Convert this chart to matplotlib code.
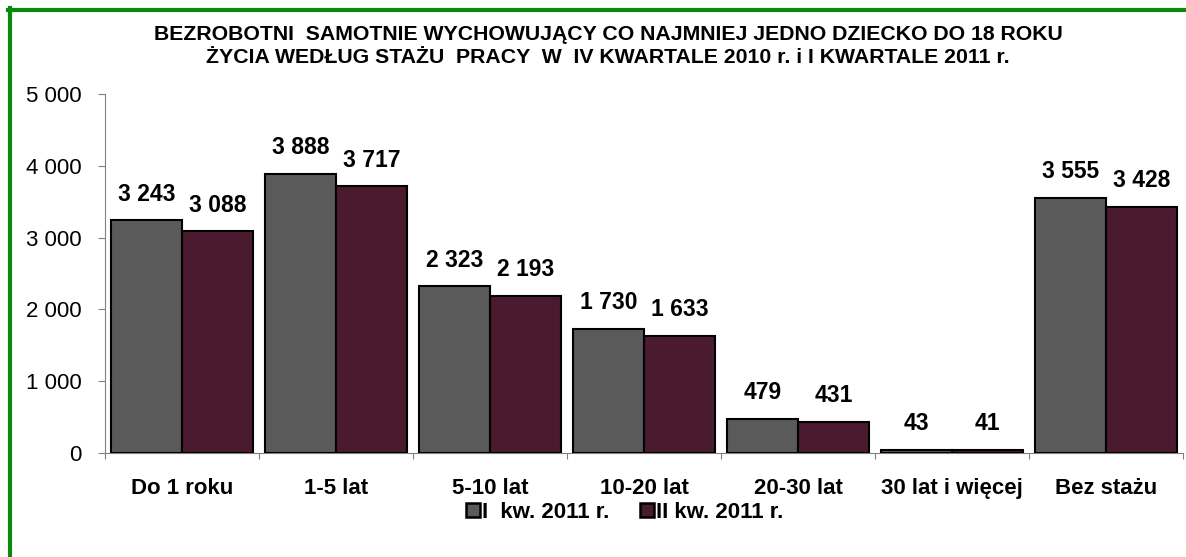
import matplotlib
matplotlib.use("Agg")
import matplotlib.pyplot as plt
import numpy as np
from matplotlib.lines import Line2D

categories = ["Do 1 roku", "1-5 lat", "5-10 lat", "10-20 lat", "20-30 lat", "30 lat i więcej", "Bez stażu"]
series1 = [3243, 3888, 2323, 1730, 479, 43, 3555]
series2 = [3088, 3717, 2193, 1633, 431, 41, 3428]
series_names = ["I  kw. 2011 r.", "II kw. 2011 r."]
yticks = [0, 1000, 2000, 3000, 4000, 5000]
title = ("BEZROBOTNI  SAMOTNIE WYCHOWUJĄCY CO NAJMNIEJ JEDNO DZIECKO DO 18 ROKU\n"
         "ŻYCIA WEDŁUG STAŻU  PRACY  W  IV KWARTALE 2010 r. i I KWARTALE 2011 r.")

plt.rcParams['font.family'] = ['Liberation Sans', 'DejaVu Sans']

fig = plt.figure(figsize=(11.86, 5.57), dpi=100)
ax = fig.add_axes([105/1186, 1-453/557, 1078/1186, 359/557])

x = np.arange(len(categories))
w = 0.46
c1, c2 = "#5a5a5a", "#4a1a2e"
b1 = ax.bar(x - w/2, series1, w, color=c1, edgecolor="black", linewidth=1.5, zorder=3)
b2 = ax.bar(x + w/2, series2, w, color=c2, edgecolor="black", linewidth=1.5, zorder=3)

def fmt(v):
    return f"{v:,}".replace(",", " ")

for bars, vals in ((b1, series1), (b2, series2)):
    for b, v in zip(bars, vals):
        ax.annotate(fmt(v), (b.get_x() + b.get_width()/2, v), xytext=(0, 10.5),
                    textcoords="offset points", ha="center", va="bottom",
                    fontsize=16.5, fontweight="bold")

ax.set_xlim(-0.5, len(categories) - 0.5)
ax.set_ylim(0, 5000)
ax.set_yticks(yticks)
ax.set_yticklabels([fmt(v) for v in yticks], fontsize=16)
ax.set_xticks(np.arange(len(categories) + 1) - 0.5, minor=False)
ax.set_xticklabels([])
ax.set_xticks(x, minor=True)
ax.set_xticklabels(categories, minor=True, fontsize=16, fontweight="bold")
ax.tick_params(axis="x", which="minor", length=0, pad=18)
ax.tick_params(axis="x", which="major", length=4, color="#808080", direction="out")
ax.tick_params(axis="y", length=5, color="#808080", direction="out", pad=12)
for s in ("top", "right"):
    ax.spines[s].set_visible(False)
ax.spines["left"].set_color("#808080")
ax.spines["bottom"].set_color("#808080")

fig.text(608/1186, 1-46/557, title, ha="center", va="center", fontsize=15.3,
         fontweight="bold", linespacing=1.25)

handles = [Line2D([], [], marker="s", linestyle="none", markersize=10,
                  markerfacecolor=c, markeredgecolor="black", markeredgewidth=1.8)
           for c in (c1, c2)]
fig.legend(handles, series_names, loc="center", bbox_to_anchor=(624/1186, 1-512/557),
           ncol=2, frameon=False, prop={"weight": "bold", "size": 16},
           handletextpad=0.0, columnspacing=1.3, handlelength=0.8)

# green frame (left and top)
fig.add_artist(Line2D([9.5/1186, 9.5/1186], [0, 1-8/557], color="#0a8a0a", linewidth=3,
                      transform=fig.transFigure))
fig.add_artist(Line2D([8/1186, 1], [1-9.5/557, 1-9.5/557], color="#0a8a0a", linewidth=3,
                      transform=fig.transFigure))

fig.savefig("out.png", dpi=100)
